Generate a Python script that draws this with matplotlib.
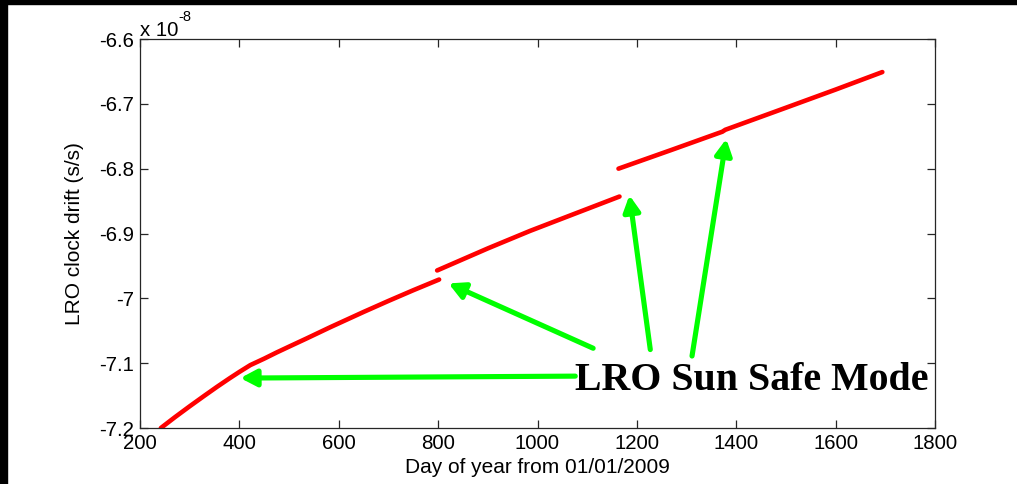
import matplotlib
matplotlib.use("Agg")
import matplotlib.pyplot as plt
from matplotlib.patches import Rectangle

# drift values are in units of 1e-8 s/s (the axis shows "x 10^-8")
days_seg1 = [242, 270, 300, 330, 355, 380, 400, 422, 450, 475, 500, 535, 583, 650, 700, 750, 802]
drift_seg1 = [-7.200, -7.1835, -7.1665, -7.150, -7.1365, -7.1235, -7.1135, -7.103, -7.093, -7.0835,
              -7.0745, -7.062, -7.0445, -7.021, -7.004, -6.9875, -6.971]
days_seg2 = [798, 900, 985, 1080, 1165]
drift_seg2 = [-6.957, -6.923, -6.896, -6.868, -6.843]
days_seg3 = [1163, 1270, 1372, 1378, 1500, 1600, 1694]
drift_seg3 = [-6.800, -6.771, -6.743, -6.740, -6.706, -6.678, -6.651]

# safe mode arrows: (tail day, tail drift) -> (head day, head drift)
arrow_tails = [(1076, -7.120), (1112, -7.077), (1227, -7.079), (1311, -7.089)]
arrow_heads = [(402, -7.123), (821, -6.977), (1185, -6.841), (1380, -6.754)]
note_text = "LRO Sun Safe Mode"

xticks = [200, 400, 600, 800, 1000, 1200, 1400, 1600, 1800]
yticks = [-7.2, -7.1, -7.0, -6.9, -6.8, -6.7, -6.6]
ytick_labels = ["-7.2", "-7.1", "-7", "-6.9", "-6.8", "-6.7", "-6.6"]

plt.rcParams["font.family"] = ["Liberation Sans", "DejaVu Sans"]

W, H = 1017, 484
fig = plt.figure(figsize=(W / 100, H / 100), dpi=100)
ax = fig.add_axes([140 / W, 1 - 428 / H, 795 / W, 389 / H])

for d, v in [(days_seg1, drift_seg1), (days_seg2, drift_seg2), (days_seg3, drift_seg3)]:
    ax.plot(d, v, color="#ff0000", lw=3.3, solid_capstyle="round", solid_joinstyle="round")

for (tx, ty), (hx, hy) in zip(arrow_tails, arrow_heads):
    ax.annotate("", xy=(hx, hy), xytext=(tx, ty),
                arrowprops=dict(arrowstyle="-|>,head_length=0.95,head_width=0.5",
                                color="#00ff00", lw=3.7, mutation_scale=10,
                                shrinkA=0, shrinkB=0))

ax.text(1076, -7.1418, note_text, family=["Liberation Serif", "DejaVu Serif"],
        fontweight="bold", fontsize=28.7, ha="left", va="baseline", color="black")

ax.set_xlim(200, 1800)
ax.set_ylim(-7.2, -6.6)
ax.set_xticks(xticks)
ax.set_yticks(yticks)
ax.set_yticklabels(ytick_labels)
ax.tick_params(direction="in", length=5.8, width=0.9, colors="#262626",
               labelcolor="black", labelsize=14.7, top=True, right=True, pad=4)
for s in ax.spines.values():
    s.set_color("#262626")
    s.set_linewidth(0.9)

ax.set_xlabel("Day of year from 01/01/2009", fontsize=15)
ax.set_ylabel("LRO clock drift (s/s)", fontsize=15)
ax.yaxis.set_label_coords(-0.071, 0.5)

fig.text(140 / W, 1 - 36 / H, "x 10", fontsize=14.7, ha="left", va="baseline")
fig.text(178 / W, 1 - 21 / H, "-8", fontsize=10.5, ha="left", va="baseline")

# black frame strips of the original screenshot
fig.patches.append(Rectangle((0, 1 - 4 / H), 1, 4 / H, transform=fig.transFigure,
                             color="black", zorder=10))
fig.patches.append(Rectangle((0, 0), 7 / W, 1, transform=fig.transFigure,
                             color="black", zorder=10))

fig.savefig("out.png", dpi=100)
